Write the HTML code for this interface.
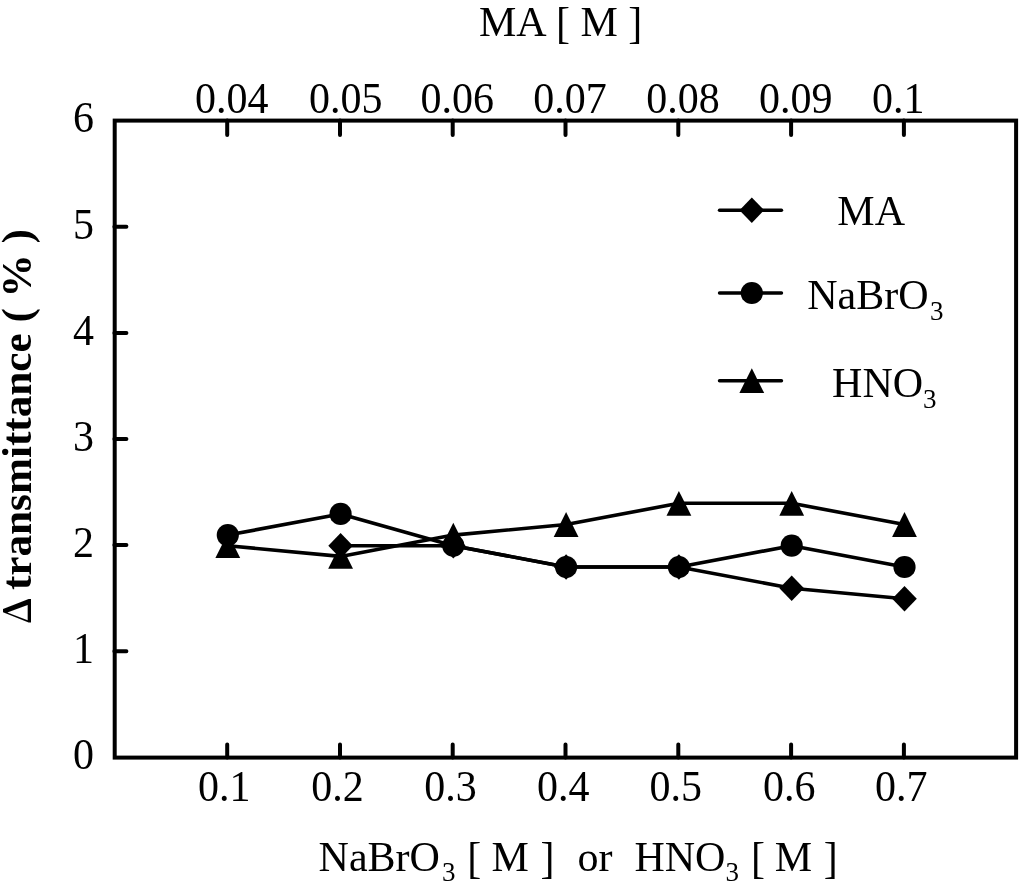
<!DOCTYPE html>
<html><head><meta charset="utf-8"><title>Chart</title>
<style>html,body{margin:0;padding:0;background:#fff;width:1024px;height:890px;overflow:hidden}svg{display:block}</style>
</head><body><svg width="1024" height="890" viewBox="0 0 1024 890" font-family="Liberation Serif, Times New Roman, serif" fill="#000"><rect x="114.7" y="120.6" width="901.4" height="637.0" fill="none" stroke="#000" stroke-width="4"/><path d="M227.2 757.4V744.4M227.2 120.6V135.1M340.0 757.4V744.4M340.0 120.6V135.1M452.7 757.4V744.4M452.7 120.6V135.1M565.5 757.4V744.4M565.5 120.6V135.1M678.3 757.4V744.4M678.3 120.6V135.1M791.1 757.4V744.4M791.1 120.6V135.1M903.9 757.4V744.4M903.9 120.6V135.1M114.4 651.3H126.4M114.4 545.1H126.4M114.4 439.0H126.4M114.4 332.9H126.4M114.4 226.8H126.4" stroke="#000" stroke-width="4" stroke-linecap="round" fill="none"/><polyline points="227.8,535.1 340.6,513.9 453.3,545.7 566.1,567.0 678.9,567.0 791.7,545.7 904.5,567.0" fill="none" stroke="#000" stroke-width="3.6" stroke-linejoin="round"/><polyline points="227.8,545.7 340.6,556.4 453.3,535.1 566.1,524.5 678.9,503.3 791.7,503.3 904.5,524.5" fill="none" stroke="#000" stroke-width="3.6" stroke-linejoin="round"/><polyline points="340.6,545.7 453.3,545.7 566.1,567.0 678.9,567.0 791.7,588.2 904.5,598.8" fill="none" stroke="#000" stroke-width="3.6" stroke-linejoin="round"/><g fill="#000"><path d="M227.8 533.3L240.2 558.1L215.4 558.1Z"/><path d="M340.6 544.0L353.0 568.8L328.2 568.8Z"/><path d="M453.3 522.7L465.7 547.5L440.9 547.5Z"/><path d="M566.1 512.1L578.5 536.9L553.7 536.9Z"/><path d="M678.9 490.9L691.3 515.7L666.5 515.7Z"/><path d="M791.7 490.9L804.1 515.7L779.3 515.7Z"/><path d="M904.5 512.1L916.9 536.9L892.1 536.9Z"/><path d="M340.6 532.9L352.9 545.7L340.6 558.5L328.3 545.7Z"/><path d="M453.3 532.9L465.6 545.7L453.3 558.5L441.0 545.7Z"/><path d="M566.1 554.2L578.4 567.0L566.1 579.8L553.8 567.0Z"/><path d="M678.9 554.2L691.2 567.0L678.9 579.8L666.6 567.0Z"/><path d="M791.7 575.4L804.0 588.2L791.7 601.0L779.4 588.2Z"/><path d="M904.5 586.0L916.8 598.8L904.5 611.6L892.2 598.8Z"/><circle cx="227.8" cy="535.1" r="11.1"/><circle cx="340.6" cy="513.9" r="11.1"/><circle cx="453.3" cy="545.7" r="11.1"/><circle cx="566.1" cy="567.0" r="11.1"/><circle cx="678.9" cy="567.0" r="11.1"/><circle cx="791.7" cy="545.7" r="11.1"/><circle cx="904.5" cy="567.0" r="11.1"/></g><path d="M719.5 210.2H781.5" stroke="#000" stroke-width="3.4" stroke-linecap="round"/><g fill="#000"><path d="M751.8 197.4L764.1 210.2L751.8 223.0L739.5 210.2Z"/></g><path d="M719.5 293.0H781.5" stroke="#000" stroke-width="3.4" stroke-linecap="round"/><g fill="#000"><circle cx="751.8" cy="293.0" r="11.1"/></g><path d="M719.5 380.7H781.5" stroke="#000" stroke-width="3.4" stroke-linecap="round"/><g fill="#000"><path d="M751.8 368.3L764.2 393.1L739.4 393.1Z"/></g><text x="479.0" y="36.0" font-size="42">MA</text><text transform="translate(556.0 37.68) scale(1 1.0576)" font-size="42">[</text><text x="580.4" y="36.0" font-size="42">M</text><text transform="translate(628.3 37.68) scale(1 1.0576)" font-size="42">]</text><text transform="translate(195.0 112.8) scale(1 1.055)" font-size="42">0.04</text><text transform="translate(308.9 112.8) scale(1 1.055)" font-size="42">0.05</text><text transform="translate(420.4 112.8) scale(1 1.055)" font-size="42">0.06</text><text transform="translate(533.2 112.8) scale(1 1.055)" font-size="42">0.07</text><text transform="translate(646.3 112.8) scale(1 1.055)" font-size="42">0.08</text><text transform="translate(759.1 112.8) scale(1 1.055)" font-size="42">0.09</text><text transform="translate(871.9 112.8) scale(1 1.055)" font-size="42">0.1</text><text transform="translate(197.9 801.3) scale(1 1.055)" font-size="42">0.1</text><text transform="translate(311.3 801.3) scale(1 1.055)" font-size="42">0.2</text><text transform="translate(424.3 801.3) scale(1 1.055)" font-size="42">0.3</text><text transform="translate(537.1 801.3) scale(1 1.055)" font-size="42">0.4</text><text transform="translate(649.5 801.3) scale(1 1.055)" font-size="42">0.5</text><text transform="translate(763.0 801.3) scale(1 1.055)" font-size="42">0.6</text><text transform="translate(875.1 801.3) scale(1 1.055)" font-size="42">0.7</text><text transform="translate(94.0 769.2) scale(1 1.055)" text-anchor="end" font-size="42">0</text><text transform="translate(94.0 663.1) scale(1 1.055)" text-anchor="end" font-size="42">1</text><text transform="translate(94.0 556.9) scale(1 1.055)" text-anchor="end" font-size="42">2</text><text transform="translate(94.0 450.8) scale(1 1.055)" text-anchor="end" font-size="42">3</text><text transform="translate(94.0 344.7) scale(1 1.055)" text-anchor="end" font-size="42">4</text><text transform="translate(94.0 238.6) scale(1 1.055)" text-anchor="end" font-size="42">5</text><text transform="translate(94.0 132.4) scale(1 1.055)" text-anchor="end" font-size="42">6</text><text transform="translate(30.8,624.3) rotate(-90)" font-size="43.2" font-weight="bold"><tspan font-family="Noto Serif CJK SC, Liberation Serif, serif" font-size="38">&#916;</tspan><tspan dx="-3.3">&#160;transmittance ( % )</tspan></text><text x="318.6" y="871.0" font-size="42">NaBrO<tspan font-size="27" dx="2" dy="10.3">3</tspan></text><text transform="translate(467.2 872.68) scale(1 1.0576)" font-size="42">[</text><text x="491.6" y="871.0" font-size="42">M</text><text transform="translate(540.4 872.68) scale(1 1.0576)" font-size="42">]</text><text x="577.4" y="871.0" font-size="42">or</text><text x="634.4" y="871.0" font-size="42">HNO<tspan font-size="27" dx="0" dy="10.3">3</tspan></text><text transform="translate(750.9 872.68) scale(1 1.0576)" font-size="42">[</text><text x="774.7" y="871.0" font-size="42">M</text><text transform="translate(823.7 872.68) scale(1 1.0576)" font-size="42">]</text><text x="837.3" y="225.0" font-size="42">MA</text><text x="807.2" y="308.8" font-size="42">NaBrO<tspan font-size="27" dx="1.5" dy="10.8">3</tspan></text><text x="832.1" y="397.0" font-size="42">HNO<tspan font-size="27" dx="0" dy="11.2">3</tspan></text></svg></body></html>
